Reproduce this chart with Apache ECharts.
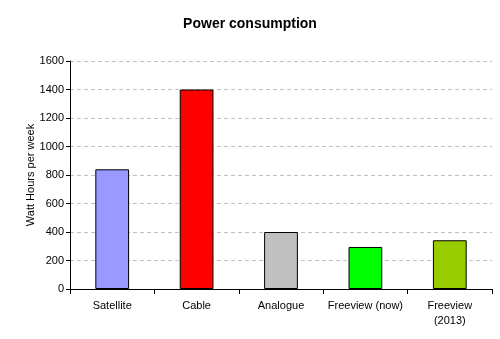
<!DOCTYPE html>
<html>
<head>
<meta charset="utf-8">
<script src="https://cdn.jsdelivr.net/npm/echarts@6/dist/echarts.min.js"></script>
<style>
  html, body { margin: 0; padding: 0; background: #fff; }
  #chart { width: 500px; height: 339px; }
</style>
</head>
<body>
<div id="chart"></div>
<script>
// Weekly energy use by TV reception type
const categories = ['Satellite', 'Cable', 'Analogue', 'Freeview (now)', 'Freeview\n(2013)'];
const values = [840, 1400, 400, 295, 342];
const barColors = ['#9999ff', '#ff0000', '#c0c0c0', '#00ff00', '#99cc00'];
const yTicks = { min: 0, max: 1600, interval: 200 };

const chart = echarts.init(document.getElementById('chart'), null, { renderer: 'canvas' });
const font = 'Liberation Sans, Arial, sans-serif';

chart.setOption({
  animation: false,
  backgroundColor: '#ffffff',
  title: {
    text: 'Power consumption',
    left: 'center',
    top: 12,
    textStyle: { fontFamily: font, fontSize: 14, fontWeight: 'bold', color: '#000' }
  },
  grid: { left: 70, right: 8, top: 61, bottom: 50 },
  xAxis: {
    type: 'category',
    data: categories,
    axisLine: { lineStyle: { color: '#000', width: 1 } },
    axisTick: { show: true, alignWithLabel: false, length: 5, lineStyle: { color: '#000' } },
    axisLabel: { fontFamily: font, fontSize: 11, color: '#000', margin: 9, lineHeight: 15, interval: 0 }
  },
  yAxis: {
    type: 'value',
    min: yTicks.min,
    max: yTicks.max,
    interval: yTicks.interval,
    name: 'Watt Hours per week',
    nameLocation: 'middle',
    nameGap: 34,
    nameMoveOverlap: false,
    nameTextStyle: { fontFamily: font, fontSize: 11, color: '#000' },
    axisLine: { show: true, lineStyle: { color: '#000', width: 1 } },
    axisTick: { show: true, length: 4, lineStyle: { color: '#000' } },
    axisLabel: { fontFamily: font, fontSize: 11, color: '#000', margin: 6, formatter: v => String(v) },
    splitLine: { show: true, lineStyle: { color: '#c0c0c0', type: [4, 3], width: 1 } }
  },
  series: [{
    type: 'bar',
    barWidth: '40%',
    data: values.map((v, i) => ({
      value: v,
      itemStyle: { color: barColors[i], borderColor: '#000', borderWidth: 1 }
    }))
  }]
});
</script>
</body>
</html>
